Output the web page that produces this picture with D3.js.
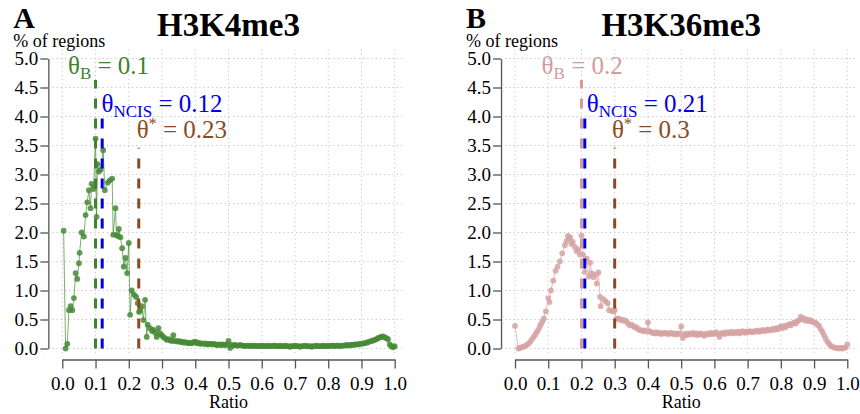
<!DOCTYPE html>
<html>
<head>
<meta charset="utf-8">
<script src="https://cdn.jsdelivr.net/npm/d3@7"></script>
<style>
  body { margin: 0; background: #fff; }
  svg { display: block; }
  text { font-family: "Liberation Serif", "Times New Roman", Times, serif; }
</style>
</head>
<body>
<div id="chart"></div>
<script>
// ---- data ----

// H3K4me3 : ratio bins and % of regions
const k4Ratio = [
  0.004,0.010,0.015,0.020,0.025,0.030,0.035,0.040,0.045,0.050,0.052,0.058,0.065,0.070,0.075,0.080,
  0.085,0.088,0.094,0.100,0.103,0.106,0.110,0.115,0.123,0.128,0.137,0.143,0.150,0.153,0.160,0.163,
  0.167,0.170,0.175,0.180,0.185,0.190,0.195,0.200,0.204,0.209,0.216,0.222,0.227,0.231,0.234,0.239,
  0.244,0.249,0.254,0.257,0.264,0.270,0.274,0.280,0.284,0.289,0.294,0.299,0.304,0.309,0.314,0.320,
  0.325,0.330,0.334,0.339,0.345,0.350,0.355,0.360,0.365,0.370,0.375,0.380,0.385,0.390,0.395,0.400,
  0.405,0.410,0.415,0.420,0.425,0.430,0.435,0.440,0.445,0.450,0.455,0.460,0.465,0.470,0.475,0.480,
  0.485,0.490,0.495,0.500,0.505,0.510,0.515,0.520,0.525,0.530,0.535,0.540,0.545,0.550,0.555,0.560,
  0.565,0.570,0.575,0.580,0.585,0.590,0.595,0.600,0.605,0.610,0.615,0.620,0.625,0.630,0.635,0.640,
  0.645,0.650,0.655,0.660,0.665,0.670,0.675,0.680,0.685,0.690,0.695,0.700,0.705,0.710,0.715,0.720,
  0.725,0.730,0.735,0.740,0.745,0.750,0.755,0.760,0.765,0.770,0.775,0.780,0.785,0.790,0.795,0.800,
  0.805,0.810,0.815,0.820,0.825,0.830,0.835,0.840,0.845,0.850,0.855,0.860,0.865,0.870,0.875,0.880,
  0.885,0.890,0.895,0.900,0.905,0.910,0.915,0.920,0.925,0.930,0.935,0.940,0.945,0.950,0.955,0.960,
  0.965,0.970,0.975,0.980,0.985,0.990,0.995,1.000
];
const k4Pct = [
  2.03,0.00,0.08,0.66,0.73,0.66,0.87,1.30,1.20,1.47,1.65,2.00,1.93,2.30,2.52,2.73,
  2.42,2.84,2.75,3.62,2.27,3.18,3.05,3.08,3.42,2.73,2.86,2.90,2.93,1.96,2.42,1.96,
  1.94,2.06,1.92,1.73,1.41,1.56,1.30,1.82,0.58,1.00,0.93,0.89,0.78,0.63,0.66,0.73,
  0.49,0.84,0.20,0.41,0.35,0.30,0.32,0.27,0.20,0.35,0.26,0.23,0.20,0.18,0.15,0.16,
  0.14,0.13,0.23,0.13,0.12,0.13,0.11,0.12,0.10,0.11,0.10,0.09,0.10,0.09,0.11,0.12,
  0.09,0.10,0.08,0.09,0.08,0.09,0.07,0.08,0.08,0.07,0.08,0.07,0.06,0.07,0.06,0.07,
  0.06,0.06,0.07,0.13,0.01,0.06,0.05,0.06,0.05,0.05,0.06,0.05,0.05,0.04,0.05,0.05,
  0.04,0.05,0.04,0.05,0.04,0.04,0.05,0.04,0.05,0.04,0.04,0.05,0.04,0.04,0.05,0.05,
  0.04,0.04,0.05,0.04,0.04,0.05,0.04,0.04,0.03,0.04,0.04,0.05,0.04,0.04,0.03,0.04,
  0.04,0.05,0.04,0.04,0.04,0.03,0.04,0.04,0.05,0.04,0.04,0.04,0.05,0.04,0.04,0.05,
  0.04,0.05,0.05,0.04,0.05,0.05,0.04,0.05,0.05,0.05,0.06,0.05,0.06,0.06,0.06,0.07,
  0.07,0.07,0.08,0.08,0.09,0.09,0.10,0.11,0.12,0.13,0.14,0.15,0.16,0.18,0.19,0.20,
  0.21,0.19,0.18,0.16,0.07,0.04,0.02,0.04
];

// H3K36me3 : ratio bins and % of regions
const k36Ratio = [
  0.000,0.010,0.015,0.020,0.025,0.030,0.035,0.040,0.045,0.050,0.055,0.060,0.065,0.070,0.075,0.078,
  0.083,0.087,0.093,0.100,0.104,0.108,0.115,0.122,0.128,0.135,0.142,0.150,0.155,0.159,0.163,0.166,
  0.170,0.174,0.180,0.185,0.190,0.195,0.200,0.205,0.210,0.216,0.222,0.226,0.231,0.236,0.241,0.246,
  0.251,0.256,0.258,0.266,0.273,0.279,0.283,0.291,0.296,0.300,0.305,0.311,0.315,0.319,0.324,0.329,
  0.335,0.340,0.346,0.351,0.356,0.361,0.366,0.371,0.376,0.381,0.386,0.391,0.396,0.400,0.405,
  0.410,0.415,0.420,0.425,0.430,0.435,0.440,0.445,0.450,0.455,0.460,0.465,0.470,0.475,0.480,
  0.485,0.490,0.495,0.500,0.505,0.510,0.515,0.520,0.525,0.530,0.535,0.540,0.545,0.550,0.555,0.560,
  0.565,0.570,0.575,0.580,0.585,0.590,0.595,0.600,0.605,0.610,0.615,0.620,0.625,0.630,0.635,0.640,
  0.645,0.650,0.655,0.660,0.665,0.670,0.675,0.680,0.685,0.690,0.695,0.700,0.705,0.710,0.715,0.720,
  0.725,0.730,0.735,0.740,0.745,0.750,0.755,0.760,0.765,0.770,0.775,0.780,0.785,0.790,0.795,0.800,
  0.805,0.810,0.815,0.820,0.825,0.830,0.835,0.840,0.845,0.850,0.855,0.860,0.865,0.870,0.875,0.880,
  0.885,0.890,0.895,0.900,0.905,0.910,0.915,0.920,0.925,0.930,0.935,0.940,0.945,0.950,0.955,0.960,
  0.965,0.970,0.975,0.980,0.985,0.990,0.995,1.000
];
const k36Pct = [
  0.39,0.00,0.01,0.02,0.03,0.04,0.06,0.08,0.11,0.15,0.19,0.23,0.28,0.32,0.38,0.42,
  0.47,0.52,0.64,0.87,0.80,1.00,1.17,1.34,1.41,1.50,1.64,1.78,1.85,1.94,1.90,1.92,
  1.80,1.84,1.75,1.68,1.71,1.62,1.95,1.62,1.32,1.55,1.24,1.48,1.30,1.23,1.27,1.12,
  1.31,0.89,0.73,0.85,0.81,0.78,0.66,0.65,0.64,0.66,0.51,0.52,0.50,0.50,0.48,0.49,
  0.47,0.43,0.40,0.41,0.39,0.36,0.37,0.33,0.32,0.31,0.30,0.31,0.29,0.45,0.30,
  0.28,0.27,0.26,0.28,0.26,0.27,0.25,0.27,0.26,0.27,0.25,0.26,0.27,0.25,0.26,
  0.24,0.26,0.25,0.38,0.18,0.25,0.23,0.26,0.24,0.25,0.27,0.24,0.26,0.23,0.25,0.26,
  0.24,0.22,0.25,0.26,0.24,0.27,0.25,0.26,0.28,0.25,0.20,0.26,0.27,0.25,0.28,0.26,
  0.27,0.29,0.26,0.28,0.27,0.29,0.26,0.28,0.30,0.27,0.29,0.28,0.30,0.29,0.28,0.30,
  0.29,0.31,0.29,0.30,0.32,0.30,0.31,0.33,0.31,0.32,0.34,0.32,0.35,0.33,0.36,0.38,
  0.35,0.39,0.37,0.40,0.42,0.40,0.43,0.45,0.43,0.47,0.49,0.55,0.50,0.52,0.48,0.50,
  0.47,0.49,0.46,0.45,0.44,0.41,0.39,0.33,0.29,0.23,0.17,0.12,0.08,0.05,0.03,0.02,
  0.01,0.01,0.00,0.01,0.00,0.01,0.02,0.07
];

// thresholds: theta_B, theta_NCIS, theta*
const thetaNames = ['B', 'NCIS', '*'];
const k4Theta = [0.1, 0.12, 0.23];
const k36Theta = [0.2, 0.21, 0.3];

// where the threshold labels sit (ratio of first glyph, % baseline) and segment tops
const k4LabelX = [0.017, 0.118, 0.224];
const k36LabelX = [0.080, 0.216, 0.292];
const labelY = [4.73, 4.08, 3.63];
const segTop = [4.63, 4.05, 3.46];

const yTicks = [0.0, 0.5, 1.0, 1.5, 2.0, 2.5, 3.0, 3.5, 4.0, 4.5, 5.0];
const xTicks = [0.0, 0.1, 0.2, 0.3, 0.4, 0.5, 0.6, 0.7, 0.8, 0.9, 1.0];

const width = 860, height = 414;
const serif = '"Liberation Serif", "Times New Roman", Times, serif';

const svg = d3.select('#chart').append('svg')
    .attr('width', width)
    .attr('height', height)
    .attr('font-family', serif);

function drawPanel(p) {
    const x = d3.scaleLinear().domain([0, 1]).range(p.xRange);
    const y = d3.scaleLinear().domain([0, 5]).range([348.5, 58.5]);
    const g = svg.append('g');

    // dotted grid
    g.append('g').selectAll('line')
        .data(yTicks)
        .enter().append('line')
            .attr('x1', x(-0.03)).attr('x2', x(1.03))
            .attr('y1', d => y(d)).attr('y2', d => y(d))
            .style('stroke', '#c4c4c4')
            .style('stroke-width', 1)
            .style('stroke-dasharray', '1.2,3');
    g.append('g').selectAll('line')
        .data(xTicks)
        .enter().append('line')
            .attr('x1', d => x(d)).attr('x2', d => x(d))
            .attr('y1', y(-0.08)).attr('y2', y(5.15))
            .style('stroke', '#c4c4c4')
            .style('stroke-width', 1)
            .style('stroke-dasharray', '1.2,3');

    // axes (R style: detached from the plot region)
    const yAxis = g.append('g')
        .attr('transform', `translate(${x(-0.042)},0)`)
        .call(d3.axisLeft(y).tickValues(yTicks).tickFormat(d3.format('.1f'))
            .tickSize(8).tickSizeOuter(0).tickPadding(2));
    const xAxis = g.append('g')
        .attr('transform', `translate(0,${y(-0.19)})`)
        .call(d3.axisBottom(x).tickValues(xTicks).tickFormat(d3.format('.1f'))
            .tickSize(9).tickSizeOuter(0).tickPadding(8));
    [yAxis, xAxis].forEach(a => {
        a.attr('font-family', serif).attr('font-size', 19);
        a.select('.domain').style('stroke', '#555').style('stroke-width', 1.3);
        a.selectAll('.tick line').style('stroke', '#555').style('stroke-width', 1.3);
        a.selectAll('.tick text').style('fill', '#000');
    });

    // series: thin line + points
    const pts = p.ratio.map((r, i) => ({r: r, v: p.pct[i]}));
    g.append('path')
        .datum(pts)
        .attr('d', d3.line().x(d => x(d.r)).y(d => y(d.v)))
        .style('fill', 'none')
        .style('stroke', p.colour)
        .style('stroke-width', 1)
        .style('opacity', 0.7);
    g.append('g').selectAll('circle')
        .data(pts)
        .enter().append('circle')
            .attr('cx', d => x(d.r))
            .attr('cy', d => y(d.v))
            .attr('r', 2.9)
            .style('fill', p.colour)
            .style('opacity', 0.85);

    // threshold segments
    const segColours = [p.thetaColour, '#0000e0', '#8b4a22'];
    g.append('g').selectAll('line')
        .data(p.theta)
        .enter().append('line')
            .attr('x1', d => x(d)).attr('x2', d => x(d))
            .attr('y1', y(0)).attr('y2', (d, i) => y(segTop[i]))
            .style('stroke', (d, i) => segColours[i])
            .style('stroke-width', 3)
            .style('stroke-dasharray', '10,10');

    // threshold labels
    p.theta.forEach((t, i) => {
        const txt = g.append('text')
            .attr('x', x(p.labelX[i]))
            .attr('y', y(labelY[i]))
            .style('font-size', '25px')
            .style('fill', segColours[i]);
        txt.append('tspan').text('\u03B8');
        if (thetaNames[i] === '*') {
            txt.append('tspan').attr('dy', -9).style('font-size', '16px').text('*');
            txt.append('tspan').attr('dy', 9).text(' = ' + t);
        } else {
            txt.append('tspan').attr('dy', 5).style('font-size', '17px').text(thetaNames[i]);
            txt.append('tspan').attr('dy', -5).text(' = ' + t);
        }
    });

    // titles
    const x0 = p.xRange[0];
    g.append('text')
        .attr('x', x0 - 49).attr('y', 28)
        .style('font-size', '30px').style('font-weight', 'bold')
        .text(p.letter);
    g.append('text')
        .attr('x', x(0.5)).attr('y', 36)
        .attr('text-anchor', 'middle')
        .style('font-size', '33px').style('font-weight', 'bold')
        .text(p.title);
    g.append('text')
        .attr('x', x0 - 49).attr('y', 47)
        .style('font-size', '18px')
        .text('% of regions');
    g.append('text')
        .attr('x', x(0.5)).attr('y', 408)
        .attr('text-anchor', 'middle')
        .style('font-size', '18px')
        .text('Ratio');
}

drawPanel({
    letter: 'A', title: 'H3K4me3',
    xRange: [62.3, 394.7],
    ratio: k4Ratio, pct: k4Pct,
    colour: '#468a36', thetaColour: '#3f8130',
    theta: k4Theta, labelX: k4LabelX
});
drawPanel({
    letter: 'B', title: 'H3K36me3',
    xRange: [515, 847.3],
    ratio: k36Ratio, pct: k36Pct,
    colour: '#d6a3a3', thetaColour: '#d29c9c',
    theta: k36Theta, labelX: k36LabelX
});
</script>
</body>
</html>
